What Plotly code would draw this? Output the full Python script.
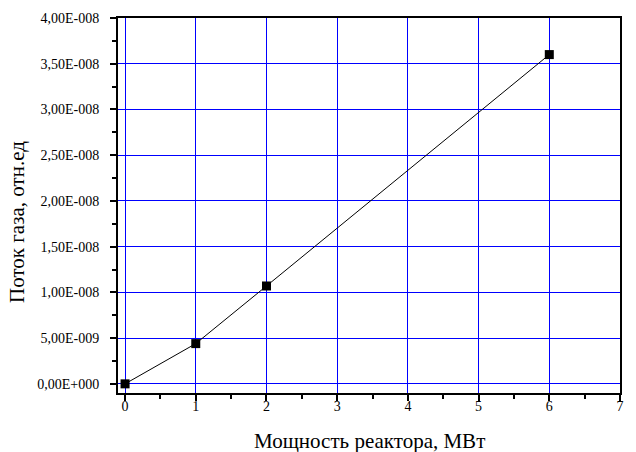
import plotly.graph_objects as go

power_mw = [0, 1, 2, 6]
gas_flow = [0.0, 4.4e-9, 1.07e-8, 3.6e-8]

x_ticks = [0, 1, 2, 3, 4, 5, 6, 7]
y_tick_vals = [0, 5e-9, 1e-8, 1.5e-8, 2e-8, 2.5e-8, 3e-8, 3.5e-8, 4e-8]
y_tick_text = ["0,00E+000", "5,00E-009", "1,00E-008", "1,50E-008", "2,00E-008",
               "2,50E-008", "3,00E-008", "3,50E-008", "4,00E-008"]
x_title = "Мощность реактора, МВт"
y_title = "Поток газа, отн.ед"

font_family = "Liberation Serif"
grid_col = "#0000ff"

fig = go.Figure()
fig.add_trace(go.Scatter(
    x=power_mw, y=gas_flow, mode="lines+markers",
    line=dict(color="black", width=1),
    marker=dict(symbol="square", size=9, color="black"),
    showlegend=False,
))

fig.update_layout(
    width=636, height=452, autosize=False,
    margin=dict(l=118, r=16, t=18, b=59),
    paper_bgcolor="white", plot_bgcolor="white",
    font=dict(family=font_family, size=14, color="black"),
)
fig.update_xaxes(
    range=[-0.1, 7.0], automargin=False,
    tickvals=x_ticks, ticktext=[str(v) for v in x_ticks],
    ticks="outside", ticklen=6, tickwidth=1.5, tickcolor="black",
    showline=True, linecolor="black", linewidth=2, mirror=True,
    showgrid=True, gridcolor=grid_col, gridwidth=1,
    zeroline=False, ticklabelstandoff=-7,
    minor=dict(dtick=0.5, tick0=0, ticks="outside", ticklen=4, tickcolor="black", showgrid=False),
    tickfont=dict(family=font_family, size=14),
)
fig.update_yaxes(
    range=[-1e-9, 4e-8], automargin=False,
    tickvals=y_tick_vals, ticktext=y_tick_text,
    ticks="outside", ticklen=6, tickwidth=1.5, tickcolor="black",
    showline=True, linecolor="black", linewidth=2, mirror=True,
    showgrid=True, gridcolor=grid_col, gridwidth=1,
    zeroline=False, ticklabelstandoff=8,
    minor=dict(dtick=2.5e-9, tick0=0, ticks="outside", ticklen=4, tickcolor="black", showgrid=False),
    tickfont=dict(family=font_family, size=14),
)

fig.add_annotation(
    text=x_title, xref="paper", yref="paper", x=0.5, y=0,
    xanchor="center", yanchor="top", yshift=-34, showarrow=False,
    font=dict(family=font_family, size=21, color="black"),
)
fig.add_annotation(
    text=y_title, xref="paper", yref="paper", x=0, y=0.456,
    xanchor="center", yanchor="middle", xshift=-101, textangle=-90, showarrow=False,
    font=dict(family=font_family, size=21, color="black"),
)

fig.write_html(
    "out.html",
    config={"responsive": False, "displayModeBar": False},
    post_script="document.body.style.margin='0';document.body.style.overflow='hidden';",
)
